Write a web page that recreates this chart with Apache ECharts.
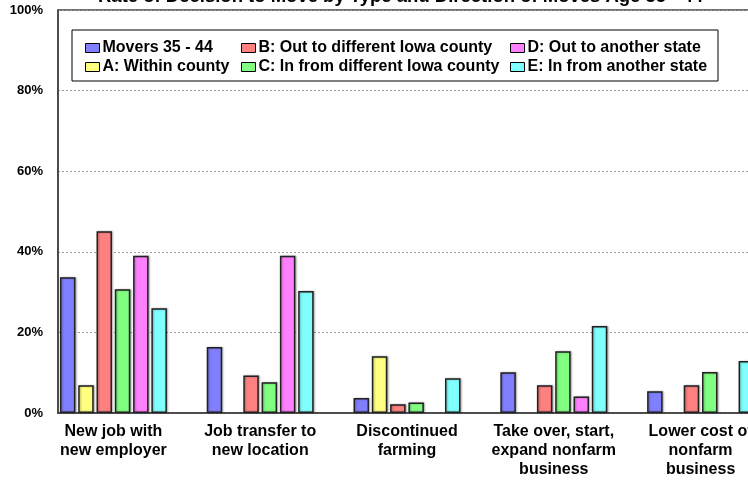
<!DOCTYPE html>
<html>
<head>
<meta charset="utf-8">
<script src="https://cdn.jsdelivr.net/npm/echarts@6/dist/echarts.min.js"></script>
<style>
  html, body { margin: 0; padding: 0; background: #fff; overflow: hidden; }
  #main { width: 800px; height: 480px; }
</style>
</head>
<body>
<div id="main"></div>
<script>
// 数据
const categories = [
  'New job with\nnew employer',
  'Job transfer to\nnew location',
  'Discontinued\nfarming',
  'Take over, start,\nexpand nonfarm\nbusiness',
  'Lower cost of\nnonfarm\nbusiness'
];
const seriesNames = [
  'Movers 35 - 44',
  'A: Within county',
  'B: Out to different Iowa county',
  'C: In from different Iowa county',
  'D: Out to another state',
  'E: In from another state'
];
const movers = [33.7, 16.4, 3.7, 10.1, 5.4];
const withinCounty = [6.9, null, 14.1, null, null];
const outIowa = [45.1, 9.3, 2.2, 6.9, 6.9];
const inIowa = [30.7, 7.6, 2.6, 15.3, 10.2];
const outState = [39.0, 39.0, null, 4.1, null];
const inState = [26.0, 30.3, 8.6, 21.6, 12.9];
const yTicks = [0, 20, 40, 60, 80, 100];

const colors = ['#8080ff', '#ffff80', '#ff8080', '#80ff80', '#ff80ff', '#80ffff'];
const allData = [movers, withinCounty, outIowa, inIowa, outState, inState];

const font = 'Liberation Sans, Arial, sans-serif';

// 画布比窗口宽，右侧被裁掉（和原图一样）
const chart = echarts.init(document.getElementById('main'), null, { renderer: 'canvas' });

// 图例
function makeLegend(names, left) {
  return {
    orient: 'vertical',
    left: left,
    top: 35,
    itemWidth: 14,
    itemHeight: 9,
    itemGap: 3,
    icon: 'rect',
    data: names,
    textStyle: { fontFamily: font, fontWeight: 'bold', fontSize: 16, color: '#000', padding: [0, 0, 0, -2] },
    itemStyle: { borderColor: '#000', borderWidth: 1, shadowBlur: 0, shadowOffsetX: 0, shadowOffsetY: 0 }
  };
}

const option = {
  animation: false,
  title: {
    text: 'Rate of Decision to Move by Type and Direction of Moves Age 35 - 44',
    left: 93,
    top: -18,
    textStyle: { fontFamily: font, fontWeight: 'bold', fontSize: 18.5, color: '#000' }
  },
  graphic: [
    {
      type: 'rect',
      z: 1,
      shape: { x: 72, y: 30, width: 646, height: 51 },
      style: { fill: '#fff', stroke: '#000', lineWidth: 1 }
    }
  ],
  legend: [
    makeLegend([seriesNames[0], seriesNames[1]], 80),
    makeLegend([seriesNames[2], seriesNames[3]], 236),
    makeLegend([seriesNames[4], seriesNames[5]], 505)
  ],
  grid: [
    // 坐标轴网格
    { left: 58, top: 10, width: 716, height: 403, show: true, borderColor: '#404040', borderWidth: 1.5 },
    // 柱子网格
    { left: 40, top: 10, width: 734, height: 403 }
  ],
  xAxis: [
    {
      type: 'category',
      gridIndex: 0,
      data: categories,
      axisLine: { lineStyle: { color: '#404040', width: 1.5 } },
      axisTick: { show: false },
      axisLabel: { show: false },
      splitLine: { show: false }
    },
    {
      type: 'category',
      gridIndex: 1,
      data: categories,
      axisLine: { show: false },
      axisTick: { show: false },
      axisLabel: {
        interval: 0,
        margin: 9,
        fontFamily: font,
        fontWeight: 'bold',
        fontSize: 16,
        lineHeight: 19,
        color: '#000'
      }
    }
  ],
  yAxis: [
    {
      type: 'value',
      gridIndex: 0,
      min: yTicks[0],
      max: yTicks[yTicks.length - 1],
      interval: 20,
      axisLine: { show: true, lineStyle: { color: '#404040', width: 1.5 } },
      axisTick: { show: false },
      axisLabel: {
        margin: 15,
        formatter: '{value}%',
        fontFamily: font,
        fontWeight: 'bold',
        fontSize: 13,
        color: '#000'
      },
      splitLine: { lineStyle: { color: '#999', type: [2, 2], width: 1 } }
    },
    {
      type: 'value',
      gridIndex: 1,
      min: yTicks[0],
      max: yTicks[yTicks.length - 1],
      show: false
    }
  ],
  series: seriesNames.map((name, i) => ({
    name: name,
    type: 'bar',
    xAxisIndex: 1,
    yAxisIndex: 1,
    data: allData[i],
    barWidth: 15.5,
    barGap: '18%',
    itemStyle: {
      color: colors[i],
      borderColor: '#222',
      borderWidth: 1.5,
      shadowColor: 'rgba(0,0,0,0.3)',
      shadowBlur: 2,
      shadowOffsetX: 1,
      shadowOffsetY: 0
    }
  }))
};

chart.setOption(option);
</script>
</body>
</html>
